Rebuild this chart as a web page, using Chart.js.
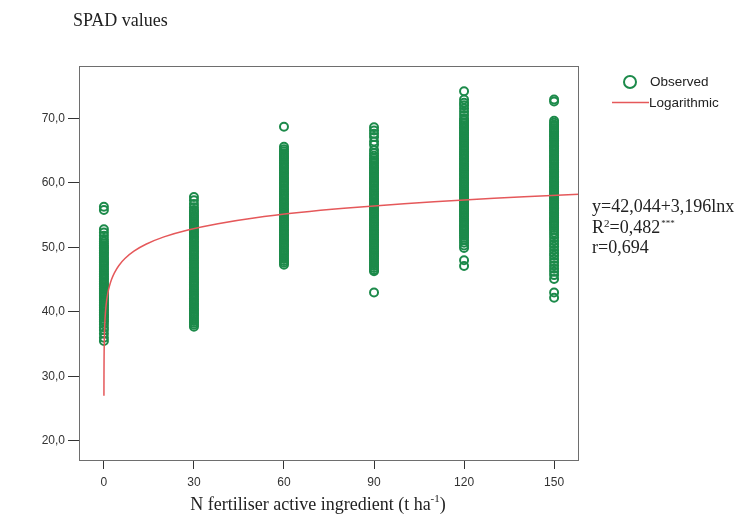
<!DOCTYPE html>
<html>
<head>
<meta charset="utf-8">
<script src="https://cdn.jsdelivr.net/npm/chart.js@4/dist/chart.umd.min.js"></script>
<style>
  html, body { margin: 0; padding: 0; background: #fff; }
  #spadChart { display: block; }
</style>
</head>
<body>
<canvas id="spadChart" width="737" height="518"></canvas>
<script>
// N rates (t ha-1) and the SPAD readings observed at each rate
const nRates = [0, 30, 60, 90, 120, 150];
const spadN0 = [56.3, 55.8, 52.8, 52.3, 51.8, 51.3, 50.9, 50.6, 50.3, 50.0, 49.8, 49.5, 49.2, 49.0, 48.7, 48.4,
  48.2, 47.9, 47.6, 47.4, 47.1, 46.8, 46.6, 46.3, 46.0, 45.8, 45.5, 45.2, 45.0, 44.7, 44.4, 44.2, 43.9, 43.6,
  43.4, 43.1, 42.8, 42.6, 42.3, 42.0, 41.8, 41.5, 41.2, 41.0, 40.7, 40.4, 40.2, 39.9, 39.6, 39.4, 39.1, 38.8,
  38.5, 38.1, 37.6, 37.2, 36.6, 36.0, 35.5];
const spadN30 = [57.8, 57.3, 56.7, 56.2, 55.8, 55.5, 55.2, 54.9, 54.7, 54.4, 54.1, 53.9, 53.6, 53.3, 53.1, 52.8,
  52.5, 52.3, 52.0, 51.7, 51.5, 51.2, 50.9, 50.7, 50.4, 50.1, 49.9, 49.6, 49.3, 49.1, 48.8, 48.5, 48.3, 48.0,
  47.7, 47.5, 47.2, 46.9, 46.7, 46.4, 46.1, 45.9, 45.6, 45.3, 45.1, 44.8, 44.5, 44.3, 44.0, 43.7, 43.5, 43.2,
  42.9, 42.7, 42.4, 42.1, 41.9, 41.6, 41.3, 41.1, 40.8, 40.5, 40.3, 40.0, 39.7, 39.5, 39.2, 38.9, 38.6, 38.3,
  38.0, 37.7];
const spadN60 = [68.7, 65.6, 65.2, 64.9, 64.6, 64.3, 64.0, 63.8, 63.5, 63.2, 63.0, 62.7, 62.4, 62.2, 61.9, 61.6,
  61.4, 61.1, 60.8, 60.6, 60.3, 60.0, 59.8, 59.5, 59.2, 59.0, 58.7, 58.4, 58.2, 57.9, 57.6, 57.4, 57.1, 56.8,
  56.6, 56.3, 56.0, 55.8, 55.5, 55.2, 55.0, 54.7, 54.4, 54.2, 53.9, 53.6, 53.4, 53.1, 52.8, 52.6, 52.3, 52.0,
  51.8, 51.5, 51.2, 51.0, 50.7, 50.4, 50.2, 49.9, 49.6, 49.4, 49.1, 48.8, 48.5, 48.2, 47.9, 47.6, 47.3];
const spadN90 = [68.6, 68.1, 67.6, 67.1, 66.4, 65.9, 65.1, 64.6, 64.2, 63.8, 63.5, 63.2, 63.0, 62.7, 62.4, 62.2,
  61.9, 61.6, 61.4, 61.1, 60.8, 60.6, 60.3, 60.0, 59.8, 59.5, 59.2, 59.0, 58.7, 58.4, 58.2, 57.9, 57.6, 57.4,
  57.1, 56.8, 56.6, 56.3, 56.0, 55.8, 55.5, 55.2, 55.0, 54.7, 54.4, 54.2, 53.9, 53.6, 53.4, 53.1, 52.8, 52.6,
  52.3, 52.0, 51.8, 51.5, 51.2, 51.0, 50.7, 50.4, 50.2, 49.9, 49.6, 49.4, 49.1, 48.8, 48.6, 48.3, 48.0, 47.7,
  47.4, 47.1, 46.8, 46.5, 46.3, 43.0];
const spadN120 = [74.2, 72.9, 72.4, 72.0, 71.5, 71.0, 70.5, 70.0, 69.7, 69.4, 69.2, 68.9, 68.6, 68.4, 68.1, 67.8,
  67.6, 67.3, 67.0, 66.8, 66.5, 66.2, 66.0, 65.7, 65.4, 65.2, 64.9, 64.6, 64.4, 64.1, 63.8, 63.6, 63.3, 63.0,
  62.8, 62.5, 62.2, 62.0, 61.7, 61.4, 61.2, 60.9, 60.6, 60.4, 60.1, 59.8, 59.6, 59.3, 59.0, 58.8, 58.5, 58.2,
  58.0, 57.7, 57.4, 57.2, 56.9, 56.6, 56.4, 56.1, 55.8, 55.6, 55.3, 55.0, 54.8, 54.5, 54.2, 54.0, 53.7, 53.4,
  53.2, 52.9, 52.6, 52.4, 52.1, 51.8, 51.5, 51.1, 50.7, 50.3, 49.9, 48.0, 47.1];
const spadN150 = [72.9, 72.6, 69.6, 69.3, 69.0, 68.8, 68.5, 68.2, 68.0, 67.7, 67.4, 67.2, 66.9, 66.6, 66.4, 66.1,
  65.8, 65.6, 65.3, 65.0, 64.8, 64.5, 64.2, 64.0, 63.7, 63.4, 63.2, 62.9, 62.6, 62.4, 62.1, 61.8, 61.6, 61.3,
  61.0, 60.8, 60.5, 60.2, 60.0, 59.7, 59.4, 59.2, 58.9, 58.6, 58.4, 58.1, 57.8, 57.6, 57.3, 57.0, 56.8, 56.5,
  56.2, 56.0, 55.7, 55.4, 55.2, 54.9, 54.6, 54.4, 54.1, 53.8, 53.6, 53.3, 53.0, 52.7, 52.3, 51.9, 51.5, 51.0,
  50.5, 50.1, 49.6, 49.1, 48.7, 48.2, 47.7, 47.2, 46.7, 46.2, 45.7, 45.1, 43.0, 42.2];
const spadByRate = [spadN0, spadN30, spadN60, spadN90, spadN120, spadN150];

// fitted curve y = a + b ln x, and the x values where it is drawn
const fitA = 42.044;
const fitB = 3.196;
const fitX = [0.009, 0.015, 0.025, 0.04, 0.06, 0.1, 0.15, 0.22, 0.32, 0.45, 0.65, 0.9, 1.3, 1.8, 2.5, 3.5, 5,
  7, 10, 14, 20, 28, 38, 50, 65, 80, 100, 120, 140, 158.3];

const xTicks = [0, 30, 60, 90, 120, 150];
const yTicks = [20, 30, 40, 50, 60, 70];

const observed = [];
nRates.forEach((n, i) => {
  spadByRate[i].forEach(v => observed.push({ x: n, y: v }));
});
const fitted = fitX.map(x => ({ x: x, y: fitA + fitB * Math.log(x) }));

const green = '#1c8a4a';
const red = '#e5585a';
const serif = '"Liberation Serif", "DejaVu Serif", serif';
const sans = '"Liberation Sans", Arial, sans-serif';

// frame, titles, equation and the hand placed legend
const decorations = {
  id: 'decorations',
  afterDraw(chart) {
    const ctx = chart.ctx;
    const a = chart.chartArea;
    ctx.save();
    ctx.strokeStyle = '#6e6e6e';
    ctx.lineWidth = 1;
    ctx.strokeRect(Math.round(a.left) + 0.5, Math.round(a.top) + 0.5,
      Math.round(a.right - a.left) - 1, Math.round(a.bottom - a.top));

    ctx.fillStyle = '#222';
    ctx.textBaseline = 'alphabetic';
    ctx.textAlign = 'left';
    ctx.font = '18px ' + serif;
    ctx.fillText('SPAD values', 73, 26);

    // x axis title with superscript -1
    const main = 'N fertiliser active ingredient (t ha';
    ctx.font = '18px ' + serif;
    const w1 = ctx.measureText(main).width;
    ctx.font = '11px ' + serif;
    const w2 = ctx.measureText('-1').width;
    ctx.font = '18px ' + serif;
    const w3 = ctx.measureText(')').width;
    let x = 318 - (w1 + w2 + w3) / 2;
    ctx.fillText(main, x, 510);
    x += w1;
    ctx.font = '11px ' + serif;
    ctx.fillText('-1', x, 502);
    x += w2;
    ctx.font = '18px ' + serif;
    ctx.fillText(')', x, 510);

    // regression equation
    ctx.font = '18px ' + serif;
    ctx.fillText('y=42,044+3,196lnx', 592, 212);
    ctx.fillText('R', 592, 233);
    let rx = 592 + ctx.measureText('R').width;
    ctx.font = '11px ' + serif;
    ctx.fillText('2', rx, 227);
    rx += ctx.measureText('2').width;
    ctx.font = '18px ' + serif;
    ctx.fillText('=0,482', rx, 233);
    rx += ctx.measureText('=0,482').width;
    ctx.font = '9px ' + serif;
    ctx.fillText('***', rx + 1, 226);
    ctx.font = '18px ' + serif;
    ctx.fillText('r=0,694', 592, 253);

    // legend
    ctx.strokeStyle = green;
    ctx.lineWidth = 2;
    ctx.beginPath();
    ctx.arc(630, 82, 6, 0, Math.PI * 2);
    ctx.stroke();
    ctx.strokeStyle = red;
    ctx.lineWidth = 1.5;
    ctx.beginPath();
    ctx.moveTo(612, 102.5);
    ctx.lineTo(649, 102.5);
    ctx.stroke();
    ctx.fillStyle = '#222';
    ctx.font = '13.5px ' + sans;
    ctx.textBaseline = 'middle';
    ctx.fillText('Observed', 650, 82);
    ctx.fillText('Logarithmic', 649, 103);
    ctx.restore();
  }
};

const ctx = document.getElementById('spadChart');
new Chart(ctx, {
  type: 'scatter',
  data: {
    datasets: [
      {
        label: 'Logarithmic',
        type: 'line',
        data: fitted,
        borderColor: red,
        borderWidth: 1.5,
        pointRadius: 0,
        fill: false,
        tension: 0.3,
        order: 0
      },
      {
        label: 'Observed',
        data: observed,
        pointStyle: 'circle',
        pointRadius: 4,
        pointBorderWidth: 2,
        borderColor: green,
        backgroundColor: 'rgba(255,255,255,0)',
        order: 1
      }
    ]
  },
  options: {
    responsive: false,
    animation: false,
    layout: { padding: { top: 66, right: 158, left: 0, bottom: 0 } },
    plugins: {
      legend: { display: false },
      tooltip: { enabled: false }
    },
    scales: {
      x: {
        type: 'linear',
        min: -8.3,
        max: 158.3,
        afterBuildTicks: s => { s.ticks = xTicks.map(v => ({ value: v })); },
        afterFit: s => { s.height = 58; },
        grid: { drawOnChartArea: false, tickLength: 9, color: '#333' },
        border: { display: false },
        ticks: { color: '#333', padding: 6, font: { family: sans, size: 12 } }
      },
      y: {
        type: 'linear',
        min: 17.05,
        max: 78.1,
        afterBuildTicks: s => { s.ticks = yTicks.map(v => ({ value: v })); },
        afterFit: s => { s.width = 79; },
        grid: { drawOnChartArea: false, tickLength: 11, color: '#333' },
        border: { display: false },
        ticks: {
          color: '#333',
          padding: 3,
          font: { family: sans, size: 12 },
          callback: v => v.toFixed(1).replace('.', ',')
        }
      }
    }
  },
  plugins: [decorations]
});
</script>
</body>
</html>
